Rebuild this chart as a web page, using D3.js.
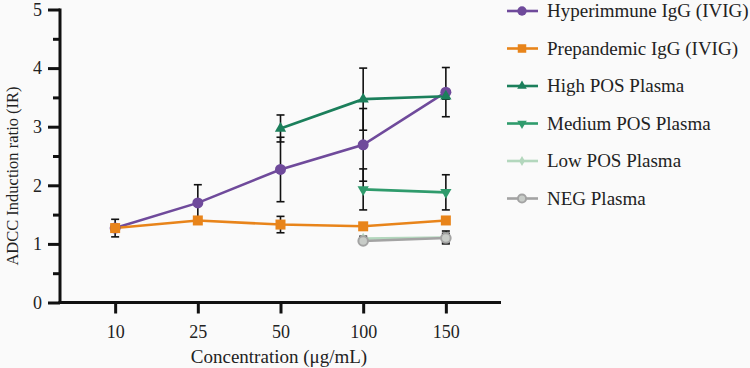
<!DOCTYPE html>
<html>
<head>
<meta charset="utf-8">
<script src="https://cdn.jsdelivr.net/npm/d3@7"></script>
<style>
  html, body { margin: 0; padding: 0; background: #fafafa; }
  svg { display: block; }
</style>
</head>
<body>
<svg id="chart" width="750" height="368"></svg>
<script>
const concentrations = ['10', '25', '50', '100', '150'];
const yTicks = [0, 1, 2, 3, 4, 5];

const hyperimmune = [1.27, 1.70, 2.27, 2.69, 3.59];
const hyperimmuneErr = [0.15, 0.31, 0.55, 0.62, 0.42];
const prepandemic = [1.27, 1.40, 1.33, 1.30, 1.40];
const prepandemicErr = [0.05, 0.03, 0.14, 0.04, 0.03];
const highPos = [null, null, 2.97, 3.47, 3.52];
const highPosErr = [null, null, 0.23, 0.53, 0.05];
const mediumPos = [null, null, null, 1.93, 1.88];
const mediumPosErr = [null, null, null, 0.35, 0.30];
const lowPos = [null, null, null, 1.09, 1.11];
const lowPosErr = [null, null, null, 0.04, 0.11];
const negPlasma = [null, null, null, 1.05, 1.10];
const negPlasmaErr = [null, null, null, 0.04, 0.08];

const series = [
  { name: 'Hyperimmune IgG (IVIG)', values: hyperimmune, err: hyperimmuneErr, color: '#6f4a9b', marker: 'circle' },
  { name: 'Prepandemic IgG (IVIG)', values: prepandemic, err: prepandemicErr, color: '#e8841a', marker: 'square' },
  { name: 'High POS Plasma', values: highPos, err: highPosErr, color: '#1b7f5b', marker: 'triangle' },
  { name: 'Medium POS Plasma', values: mediumPos, err: mediumPosErr, color: '#2f9b6c', marker: 'triangleDown' },
  { name: 'Low POS Plasma', values: lowPos, err: lowPosErr, color: '#b3d7bd', marker: 'diamond' },
  { name: 'NEG Plasma', values: negPlasma, err: negPlasmaErr, color: '#a3a3a3', marker: 'openCircle' }
];

const svg = d3.select('#chart');
const PLOT = { left: 60, right: 501, top: 9.5, bottom: 302.5 };
// generic "serif" resolves to a sans face here, so name the family alone
const SERIF = '"Liberation Serif"';
const textColor = '#222';
const ink = '#111';

const x = d3.scalePoint().domain(concentrations).range([PLOT.left, PLOT.right]).padding(0.667);
const y = d3.scaleLinear().domain([0, 5]).range([PLOT.bottom, PLOT.top]);

// y axis (major + minor ticks)
const yAxis = svg.append('g').attr('transform', `translate(${PLOT.left},0)`)
  .call(d3.axisLeft(y).tickValues(yTicks).tickSize(12).tickPadding(6).tickFormat(d3.format('d')))
  .attr('font-family', null);
yAxis.select('.domain').remove();
yAxis.selectAll('.tick line').attr('stroke', ink).attr('stroke-width', 3);
yAxis.selectAll('.tick text')
  .style('font-family', SERIF).style('font-size', '18px').style('fill', textColor);

svg.append('g').attr('transform', `translate(${PLOT.left},0)`)
  .call(d3.axisLeft(y).tickValues(d3.range(0.5, 5, 1)).tickSize(7).tickFormat(''))
  .call(g => g.select('.domain').remove())
  .selectAll('.tick line').attr('stroke', ink).attr('stroke-width', 3);

svg.append('line')
  .attr('x1', PLOT.left).attr('x2', PLOT.left)
  .attr('y1', PLOT.top - 1).attr('y2', PLOT.bottom + 1.5)
  .attr('stroke', ink).attr('stroke-width', 3);

// x axis
const xAxis = svg.append('g').attr('transform', `translate(0,${PLOT.bottom})`)
  .call(d3.axisBottom(x).tickSize(11).tickPadding(12))
  .attr('font-family', null);
xAxis.select('.domain').remove();
xAxis.selectAll('.tick line').attr('stroke', ink).attr('stroke-width', 3);
xAxis.selectAll('.tick text')
  .style('font-family', SERIF).style('font-size', '18px').style('fill', textColor);

svg.append('line')
  .attr('x1', PLOT.left - 1.5).attr('x2', PLOT.right)
  .attr('y1', PLOT.bottom).attr('y2', PLOT.bottom)
  .attr('stroke', ink).attr('stroke-width', 3);

// axis titles
svg.append('text')
  .attr('transform', `translate(18,${(PLOT.top + PLOT.bottom) / 2 + 20}) rotate(-90)`)
  .attr('text-anchor', 'middle')
  .style('font-family', SERIF).style('font-size', '16.5px').style('fill', textColor)
  .text('ADCC Induction ratio (IR)');

svg.append('text')
  .attr('x', 279).attr('y', 363)
  .attr('text-anchor', 'middle')
  .style('font-family', SERIF).style('font-size', '19px').style('fill', textColor)
  .text('Concentration (μg/mL)');

function drawMarker(sel, type, color, cx, cy, s) {
  if (type === 'circle') {
    sel.append('circle').attr('cx', cx).attr('cy', cy).attr('r', 5.5 * s).attr('fill', color);
  } else if (type === 'openCircle') {
    sel.append('circle').attr('cx', cx).attr('cy', cy).attr('r', 4.8 * s)
      .attr('fill', '#c8ccc8').attr('stroke', color).attr('stroke-width', 2);
  } else if (type === 'square') {
    sel.append('rect').attr('x', cx - 5 * s).attr('y', cy - 5 * s)
      .attr('width', 10 * s).attr('height', 10 * s).attr('fill', color);
  } else if (type === 'diamond') {
    sel.append('path').attr('d', d3.symbol(d3.symbolDiamond, 40 * s * s)()).attr('transform', `translate(${cx},${cy})`).attr('fill', color);
  } else if (type === 'triangle') {
    sel.append('path').attr('d', d3.symbol(d3.symbolTriangle, 55 * s * s)()).attr('transform', `translate(${cx},${cy})`).attr('fill', color);
  } else if (type === 'triangleDown') {
    sel.append('path').attr('d', d3.symbol(d3.symbolTriangle, 55 * s * s)()).attr('transform', `translate(${cx},${cy}) rotate(180)`).attr('fill', color);
  }
}

const errG = svg.append('g');
const lineG = svg.append('g');
const markG = svg.append('g');

const line = d3.line()
  .defined(d => d.v !== null)
  .x(d => x(d.c)).y(d => y(d.v));

series.forEach(s => {
  const pts = concentrations.map((c, i) => ({ c, v: s.values[i], e: s.err[i] }));
  const valid = pts.filter(d => d.v !== null);

  valid.forEach(d => {
    const px = x(d.c);
    const lo = y(d.v - d.e), hi = y(d.v + d.e);
    errG.append('line').attr('x1', px).attr('x2', px).attr('y1', lo).attr('y2', hi)
      .attr('stroke', ink).attr('stroke-width', 1.6);
    [lo, hi].forEach(yy => errG.append('line')
      .attr('x1', px - 4).attr('x2', px + 4).attr('y1', yy).attr('y2', yy)
      .attr('stroke', ink).attr('stroke-width', 1.6));
  });

  lineG.append('path').datum(pts).attr('d', line)
    .attr('fill', 'none').attr('stroke', s.color).attr('stroke-width', 2.6);

  valid.forEach(d => drawMarker(markG, s.marker, s.color, x(d.c), y(d.v), 1));
});

// legend
const legend = svg.append('g');
series.forEach((s, i) => {
  const ly = 11 + i * 37.5;
  legend.append('line').attr('x1', 507).attr('x2', 538).attr('y1', ly).attr('y2', ly)
    .attr('stroke', s.color).attr('stroke-width', 2.6);
  drawMarker(legend, s.marker, s.color, 522, ly, 0.85);
  legend.append('text').attr('x', 547).attr('y', ly + 6)
    .style('font-family', SERIF).style('font-size', '19px').style('fill', textColor)
    .text(s.name);
});
</script>
</body>
</html>
